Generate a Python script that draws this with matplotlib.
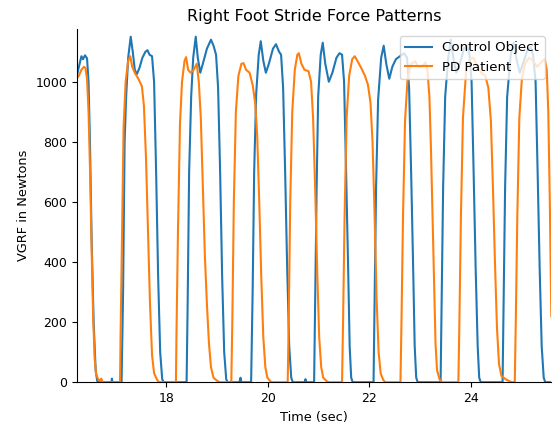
import matplotlib
matplotlib.use("Agg")
import matplotlib.pyplot as plt

# Right foot VGRF, control subject
control_time = [
    16.24, 16.28, 16.33, 16.36, 16.40, 16.44, 16.47, 16.50, 16.53, 16.57, 16.61, 16.64, 16.66,
    16.92, 16.93, 16.94, 17.12,
    17.15, 17.18, 17.21, 17.25, 17.30, 17.34, 17.38, 17.42, 17.47, 17.53, 17.59, 17.63, 17.67,
    17.72, 17.76, 17.80, 17.84, 17.88, 17.92, 17.95, 18.40,
    18.42, 18.45, 18.49, 18.53, 18.58, 18.62, 18.67, 18.72, 18.80, 18.88, 18.93, 18.98, 19.02,
    19.06, 19.10, 19.14, 19.18, 19.21, 19.44, 19.46, 19.48, 19.67,
    19.70, 19.73, 19.77, 19.82, 19.86, 19.91, 19.96, 20.02, 20.10, 20.16, 20.22, 20.26, 20.30,
    20.34, 20.38, 20.42, 20.46, 20.49, 20.73, 20.74, 20.75, 20.91,
    20.93, 20.96, 20.99, 21.04, 21.08, 21.13, 21.20, 21.27, 21.35, 21.41, 21.46, 21.50, 21.54,
    21.58, 21.61, 21.64, 21.67, 22.08,
    22.10, 22.13, 22.17, 22.23, 22.28, 22.33, 22.39, 22.45, 22.52, 22.60, 22.68, 22.74, 22.78,
    22.82, 22.86, 22.89, 22.92, 22.95, 23.40,
    23.42, 23.45, 23.49, 23.55, 23.60, 23.65, 23.71, 23.78, 23.86, 23.92, 23.97, 24.01, 24.05,
    24.09, 24.13, 24.16, 24.19, 24.62,
    24.64, 24.67, 24.71, 24.78, 24.84, 24.90, 24.96, 25.04, 25.12, 25.17, 25.22, 25.27, 25.31,
    25.35, 25.39, 25.43, 25.46, 25.58,
]
control_force = [
    1020, 1050, 1085, 1075, 1088, 1078, 1000, 780, 480, 200, 40, 5, 0,
    0, 12, 0, 0,
    300, 800, 950, 1080, 1150, 1100, 1040, 1025, 1045, 1080, 1100, 1105, 1090,
    1085, 1000, 700, 350, 100, 10, 0, 0,
    250, 700, 950, 1080, 1150, 1080, 1030, 1060, 1110, 1140, 1120, 1090, 980,
    700, 350, 100, 10, 0, 0, 15, 0, 0,
    300, 700, 960, 1090, 1135, 1070, 1030, 1060, 1110, 1125, 1100, 1090, 980,
    700, 380, 120, 15, 0, 0, 10, 0, 0,
    250, 650, 950, 1090, 1130, 1060, 1000, 1030, 1080, 1095, 1090, 1000, 700,
    380, 120, 15, 0, 0,
    250, 650, 940, 1080, 1120, 1060, 1010, 1050, 1075, 1085, 1095, 1080, 980,
    700, 380, 120, 15, 0, 0,
    250, 650, 950, 1080, 1140, 1080, 1030, 1060, 1110, 1120, 1090, 1000, 700,
    380, 120, 15, 0, 0,
    250, 650, 950, 1090, 1130, 1070, 1030, 1070, 1110, 1115, 1090, 1000, 700,
    380, 120, 15, 0, 0,
]

# Right foot VGRF, PD patient
pd_time = [
    16.24, 16.28, 16.33, 16.38, 16.41, 16.44, 16.47, 16.50, 16.53, 16.56, 16.59, 16.62, 16.66,
    16.70, 16.72, 16.75, 17.09,
    17.10, 17.13, 17.16, 17.20, 17.25, 17.29, 17.33, 17.38, 17.45, 17.52, 17.56, 17.60, 17.64,
    17.68, 17.72, 17.76, 17.82, 17.86, 18.19,
    18.20, 18.23, 18.27, 18.31, 18.36, 18.39, 18.43, 18.48, 18.54, 18.60, 18.64, 18.68, 18.72,
    18.76, 18.80, 18.84, 18.88, 18.93, 19.00, 19.05, 19.28,
    19.30, 19.33, 19.37, 19.42, 19.48, 19.52, 19.57, 19.64, 19.70, 19.75, 19.79, 19.83, 19.87,
    19.91, 19.95, 19.99, 20.05, 20.08, 20.39,
    20.41, 20.44, 20.48, 20.53, 20.58, 20.61, 20.66, 20.72, 20.80, 20.85, 20.89, 20.93, 20.97,
    21.01, 21.05, 21.09, 21.16, 21.20, 21.46,
    21.48, 21.51, 21.55, 21.60, 21.66, 21.71, 21.76, 21.84, 21.91, 21.97, 22.02, 22.06, 22.10,
    22.14, 22.18, 22.22, 22.27, 22.31, 22.61,
    22.63, 22.66, 22.70, 22.75, 22.82, 22.90, 22.96, 23.03, 23.10, 23.14, 23.18, 23.21, 23.24,
    23.27, 23.30, 23.33, 23.38, 23.43, 23.75,
    23.77, 23.80, 23.84, 23.90, 23.97, 24.05, 24.12, 24.20, 24.28, 24.34, 24.39, 24.43, 24.47,
    24.51, 24.55, 24.60, 24.70, 24.80, 24.86,
    24.88, 24.91, 24.95, 25.00, 25.06, 25.14, 25.22, 25.30, 25.38, 25.45, 25.49, 25.52, 25.55,
    25.58,
]
pd_force = [
    1012, 1020, 1040, 1050, 1045, 1010, 900, 700, 450, 220, 80, 25, 10,
    5, 12, 0, 0,
    150, 500, 850, 1000, 1070, 1085, 1050, 1030, 1010, 985, 920, 750, 500,
    260, 90, 30, 8, 0, 0,
    150, 500, 860, 1000, 1070, 1082, 1040, 1030, 1040, 1060, 1000, 880, 650,
    420, 260, 130, 50, 15, 5, 0, 0,
    200, 600, 900, 1020, 1060, 1062, 1040, 1030, 990, 930, 820, 600, 350,
    150, 50, 15, 3, 0, 0,
    200, 600, 900, 1040, 1090, 1095, 1060, 1040, 1035, 1000, 880, 650, 380,
    150, 50, 15, 3, 0, 0,
    200, 550, 880, 1020, 1075, 1085, 1070, 1045, 1020, 990, 930, 800, 560,
    280, 100, 30, 8, 0, 0,
    200, 550, 870, 1010, 1060, 1068, 1050, 1050, 1065, 1040, 950, 780, 560,
    330, 130, 40, 10, 0, 0,
    200, 550, 880, 1030, 1075, 1080, 1050, 1030, 1020, 980, 870, 650, 400,
    180, 60, 20, 8, 0, 0,
    200, 550, 880, 1010, 1060, 1080, 1070, 1050, 1065, 1075, 1040, 900, 600,
    220,
]

fig = plt.figure(figsize=(5.53, 4.29), dpi=100)
ax = fig.add_axes([0.139, 0.109, 0.858, 0.823])

ax.plot(control_time, control_force, label="Control Object")
ax.plot(pd_time, pd_force, label="PD Patient")

ax.set_xlim(16.24, 25.58)
ax.set_ylim(0, 1175)
ax.set_xticks([18, 20, 22, 24])
ax.set_yticks([0, 200, 400, 600, 800, 1000])
ax.tick_params(labelsize=9)
ax.spines["top"].set_visible(False)
ax.spines["right"].set_visible(False)

ax.set_title("Right Foot Stride Force Patterns", fontsize=11.5)
ax.set_xlabel("Time (sec)", fontsize=9.3)
ax.set_ylabel("VGRF in Newtons", fontsize=9.3)
ax.legend(loc="upper right", fontsize=9.6)

fig.savefig("out.png", dpi=100)
